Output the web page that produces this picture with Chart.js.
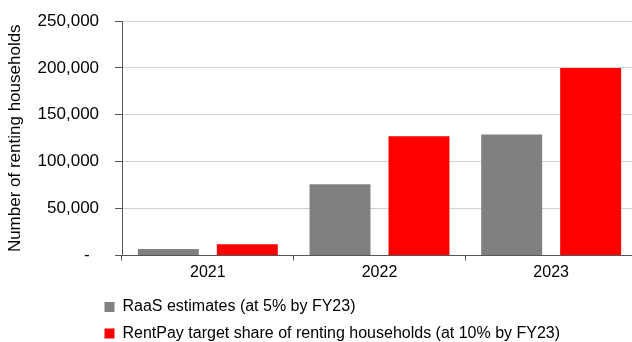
<!DOCTYPE html>
<html>
<head>
<meta charset="utf-8">
<script src="https://cdn.jsdelivr.net/npm/chart.js@4/dist/chart.umd.min.js"></script>
<style>
  html, body { margin: 0; padding: 0; background: #fff; overflow: hidden; width: 632px; height: 342px; }
  canvas { position: absolute; left: 0; top: 0; }
</style>
</head>
<body>
<canvas id="myChart" width="637" height="342"></canvas>
<script>
// chart data
var years = ["2021", "2022", "2023"];
var raasEstimates = [7000, 76000, 129000];
var rentPayTarget = [12000, 127000, 200000];
var seriesNames = ["RaaS estimates (at 5% by FY23)", "RentPay target share of renting households (at 10% by FY23)"];
var yTicks = [0, 50000, 100000, 150000, 200000, 250000];

var FONT = "'Liberation Sans', Arial, sans-serif";

// move the legend so its rows start under the axis like the original
var legendShift = {
	id: "legendShift",
	afterLayout: function(chart) {
		var lg = chart.legend;
		var dx = 94 - lg.left;
		lg.left += dx;
		lg.right += dx;
	}
};

var ctx = document.getElementById("myChart");

var myChart = new Chart(ctx, {
	type: "bar",
	data: {
		labels: years,
		datasets: [
			{
				label: seriesNames[0],
				data: raasEstimates,
				backgroundColor: "#808080",
				borderWidth: 0
			},
			{
				label: seriesNames[1],
				data: rentPayTarget,
				backgroundColor: "#ff0000",
				borderWidth: 0
			}
		]
	},
	options: {
		responsive: false,
		animation: false,
		layout: { padding: { top: 21, right: 0, bottom: 0, left: 0 } },
		datasets: {
			bar: { categoryPercentage: 0.92, barPercentage: 0.772 }
		},
		plugins: {
			legend: {
				position: "bottom",
				align: "start",
				maxHeight: 53.5,
				labels: {
					boxWidth: 10,
					boxHeight: 10,
					padding: 10.5,
					color: "#000",
					font: { family: FONT, size: 16 }
				}
			},
			tooltip: { enabled: false }
		},
		scales: {
			x: {
				grid: {
					drawOnChartArea: false,
					tickLength: 5,
					tickColor: "#555",
					offset: true
				},
				border: { color: "#555", width: 1 },
				ticks: {
					color: "#000",
					padding: 2,
					font: { family: FONT, size: 16 }
				},
				afterFit: function(s) { s.height = 33; }
			},
			y: {
				min: 0,
				max: 250000,
				afterBuildTicks: function(s) {
					s.ticks = yTicks.map(function(v) { return { value: v }; });
				},
				grid: {
					color: "#d0d0d0",
					lineWidth: 1,
					tickLength: 7,
					tickColor: "#555"
				},
				border: { color: "#555", width: 1 },
				ticks: {
					color: "#000",
					padding: 6.5,
					font: { family: FONT, size: 17 },
					callback: function(v) {
						if (v === 0) return "-    ";
						return v.toLocaleString("en-US") + "  ";
					}
				},
				title: {
					display: true,
					text: "Number of renting households",
					color: "#000",
					padding: { top: 5, bottom: 0 },
					font: { family: FONT, size: 17 }
				},
				afterFit: function(s) { s.width = 122; }
			}
		}
	},
	plugins: [legendShift]
});
</script>
</body>
</html>
